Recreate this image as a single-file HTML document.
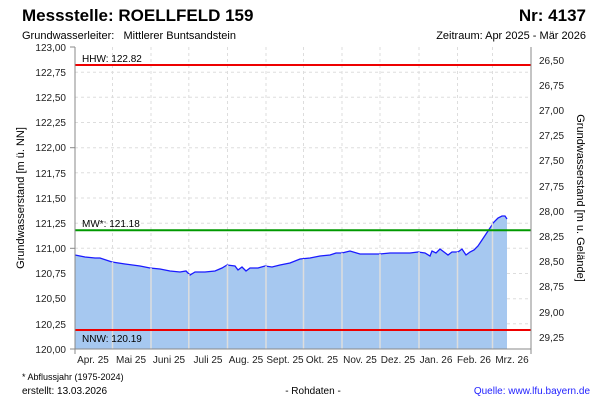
<!DOCTYPE html>
<html><head><meta charset="utf-8"><style>body{margin:0;background:#fff}svg{display:block}</style></head><body>
<svg width="600" height="400" xmlns="http://www.w3.org/2000/svg" font-family="Liberation Sans, sans-serif">
<rect width="600" height="400" fill="#fff"/>
<text x="22" y="21" font-size="17" font-weight="bold">Messstelle: ROELLFELD 159</text>
<text x="586" y="21" font-size="17" font-weight="bold" text-anchor="end">Nr: 4137</text>
<text x="22" y="39" font-size="11" style="white-space:pre">Grundwasserleiter:   Mittlerer Buntsandstein</text>
<text x="586" y="39" font-size="11" text-anchor="end">Zeitraum: Apr 2025 - Mär 2026</text>
<g stroke="#ddd" stroke-dasharray="3,3" stroke-width="1">
<line x1="75" x2="531" y1="72.2" y2="72.2"/><line x1="75" x2="531" y1="97.3" y2="97.3"/><line x1="75" x2="531" y1="122.5" y2="122.5"/><line x1="75" x2="531" y1="147.7" y2="147.7"/><line x1="75" x2="531" y1="172.8" y2="172.8"/><line x1="75" x2="531" y1="198" y2="198"/><line x1="75" x2="531" y1="223.2" y2="223.2"/><line x1="75" x2="531" y1="248.3" y2="248.3"/><line x1="75" x2="531" y1="273.5" y2="273.5"/><line x1="75" x2="531" y1="298.7" y2="298.7"/><line x1="75" x2="531" y1="323.8" y2="323.8"/>
<line x1="112.5" x2="112.5" y1="47" y2="349"/><line x1="151" x2="151" y1="47" y2="349"/><line x1="188.8" x2="188.8" y1="47" y2="349"/><line x1="227.5" x2="227.5" y1="47" y2="349"/><line x1="266" x2="266" y1="47" y2="349"/><line x1="303.5" x2="303.5" y1="47" y2="349"/><line x1="342" x2="342" y1="47" y2="349"/><line x1="380" x2="380" y1="47" y2="349"/><line x1="419" x2="419" y1="47" y2="349"/><line x1="457.5" x2="457.5" y1="47" y2="349"/><line x1="492.5" x2="492.5" y1="47" y2="349"/>
</g>
<polygon fill="#a6c8f0" points="75,349 75,255 85,257 95,258 100,258 112,262 125,264 140,266 150,268 160,269 170,271 180,272 186,271 190,275 195,272 205,272 215,271 222,268 227,265 235,266 238,270 242,267 246,271 250,268 258,268 265,266 272,267 280,265 290,263 300,259 310,258 320,256 330,255 336,253 342,253 350,251 360,254 370,254 380,254 390,253 400,253 410,253 418,252 425,253 430,256 432,251 436,253 440,249 444,252 448,255 452,252 458,252 462,249 466,255 470,252 474,250 478,246 482,240 486,234 490,228 494,222 498,218 502,216 505,216 507,219 507,349"/>
<polyline fill="none" stroke="#1a1aff" stroke-width="1.3" points="75,255 85,257 95,258 100,258 112,262 125,264 140,266 150,268 160,269 170,271 180,272 186,271 190,275 195,272 205,272 215,271 222,268 227,265 235,266 238,270 242,267 246,271 250,268 258,268 265,266 272,267 280,265 290,263 300,259 310,258 320,256 330,255 336,253 342,253 350,251 360,254 370,254 380,254 390,253 400,253 410,253 418,252 425,253 430,256 432,251 436,253 440,249 444,252 448,255 452,252 458,252 462,249 466,255 470,252 474,250 478,246 482,240 486,234 490,228 494,222 498,218 502,216 505,216 507,219"/>
<g stroke="#ddd" stroke-width="1.5">
<line x1="112.5" x2="112.5" y1="262" y2="349"/><line x1="151" x2="151" y1="268" y2="349"/><line x1="188.8" x2="188.8" y1="274" y2="349"/><line x1="227.5" x2="227.5" y1="265" y2="349"/><line x1="266" x2="266" y1="266" y2="349"/><line x1="303.5" x2="303.5" y1="259" y2="349"/><line x1="342" x2="342" y1="253" y2="349"/><line x1="380" x2="380" y1="254" y2="349"/><line x1="419" x2="419" y1="252" y2="349"/><line x1="457.5" x2="457.5" y1="252" y2="349"/><line x1="492.5" x2="492.5" y1="223" y2="349"/>
</g>
<line x1="75" x2="531" y1="65" y2="65" stroke="#e00" stroke-width="2"/>
<line x1="75" x2="531" y1="230.2" y2="230.2" stroke="#090" stroke-width="2"/>
<line x1="75" x2="531" y1="330" y2="330" stroke="#e00" stroke-width="2"/>
<g font-size="10"><text x="82" y="62">HHW: 122.82</text><text x="82" y="227">MW*: 121.18</text><text x="82" y="342">NNW: 120.19</text></g>
<g stroke="#888" fill="none"><line x1="75" x2="75" y1="47" y2="354"/><line x1="531" x2="531" y1="47" y2="354"/><line x1="75" x2="531" y1="349" y2="349"/></g>
<g font-size="10" text-anchor="end" fill="#222">
<text x="66" y="51">123,00</text><text x="66" y="76">122,75</text><text x="66" y="101">122,50</text><text x="66" y="126">122,25</text><text x="66" y="151">122,00</text><text x="66" y="177">121,75</text><text x="66" y="202">121,50</text><text x="66" y="227">121,25</text><text x="66" y="252">121,00</text><text x="66" y="277">120,75</text><text x="66" y="302">120,50</text><text x="66" y="328">120,25</text><text x="66" y="353">120,00</text>
</g>
<g font-size="10" fill="#222">
<text x="539" y="64">26,50</text><text x="539" y="89">26,75</text><text x="539" y="114">27,00</text><text x="539" y="139">27,25</text><text x="539" y="164">27,50</text><text x="539" y="190">27,75</text><text x="539" y="215">28,00</text><text x="539" y="240">28,25</text><text x="539" y="265">28,50</text><text x="539" y="290">28,75</text><text x="539" y="316">29,00</text><text x="539" y="341">29,25</text>
</g>
<g stroke="#888"><line x1="70" x2="75" y1="47" y2="47"/><line x1="70" x2="75" y1="147.7" y2="147.7"/><line x1="70" x2="75" y1="248.3" y2="248.3"/><line x1="70" x2="75" y1="349" y2="349"/></g>
<g font-size="10" text-anchor="middle" fill="#222">
<text x="93" y="363">Apr. 25</text><text x="131" y="363">Mai 25</text><text x="169" y="363">Juni 25</text><text x="208" y="363">Juli 25</text><text x="246" y="363">Aug. 25</text><text x="285" y="363">Sept. 25</text><text x="322" y="363">Okt. 25</text><text x="360" y="363">Nov. 25</text><text x="398" y="363">Dez. 25</text><text x="436" y="363">Jan. 26</text><text x="474" y="363">Feb. 26</text><text x="512" y="363">Mrz. 26</text>
</g>
<text transform="translate(24,198) rotate(-90)" font-size="11" text-anchor="middle">Grundwasserstand [m ü. NN]</text>
<text transform="translate(577,198) rotate(90)" font-size="11" text-anchor="middle">Grundwasserstand [m u. Gelände]</text>
<text x="22" y="380" font-size="9">* Abflussjahr (1975-2024)</text>
<text x="22" y="394" font-size="10">erstellt:  13.03.2026</text>
<text x="313" y="394" font-size="10" text-anchor="middle">- Rohdaten -</text>
<text x="590" y="394" font-size="10" text-anchor="end" fill="#22f">Quelle: www.lfu.bayern.de</text>
</svg>
</body></html>
